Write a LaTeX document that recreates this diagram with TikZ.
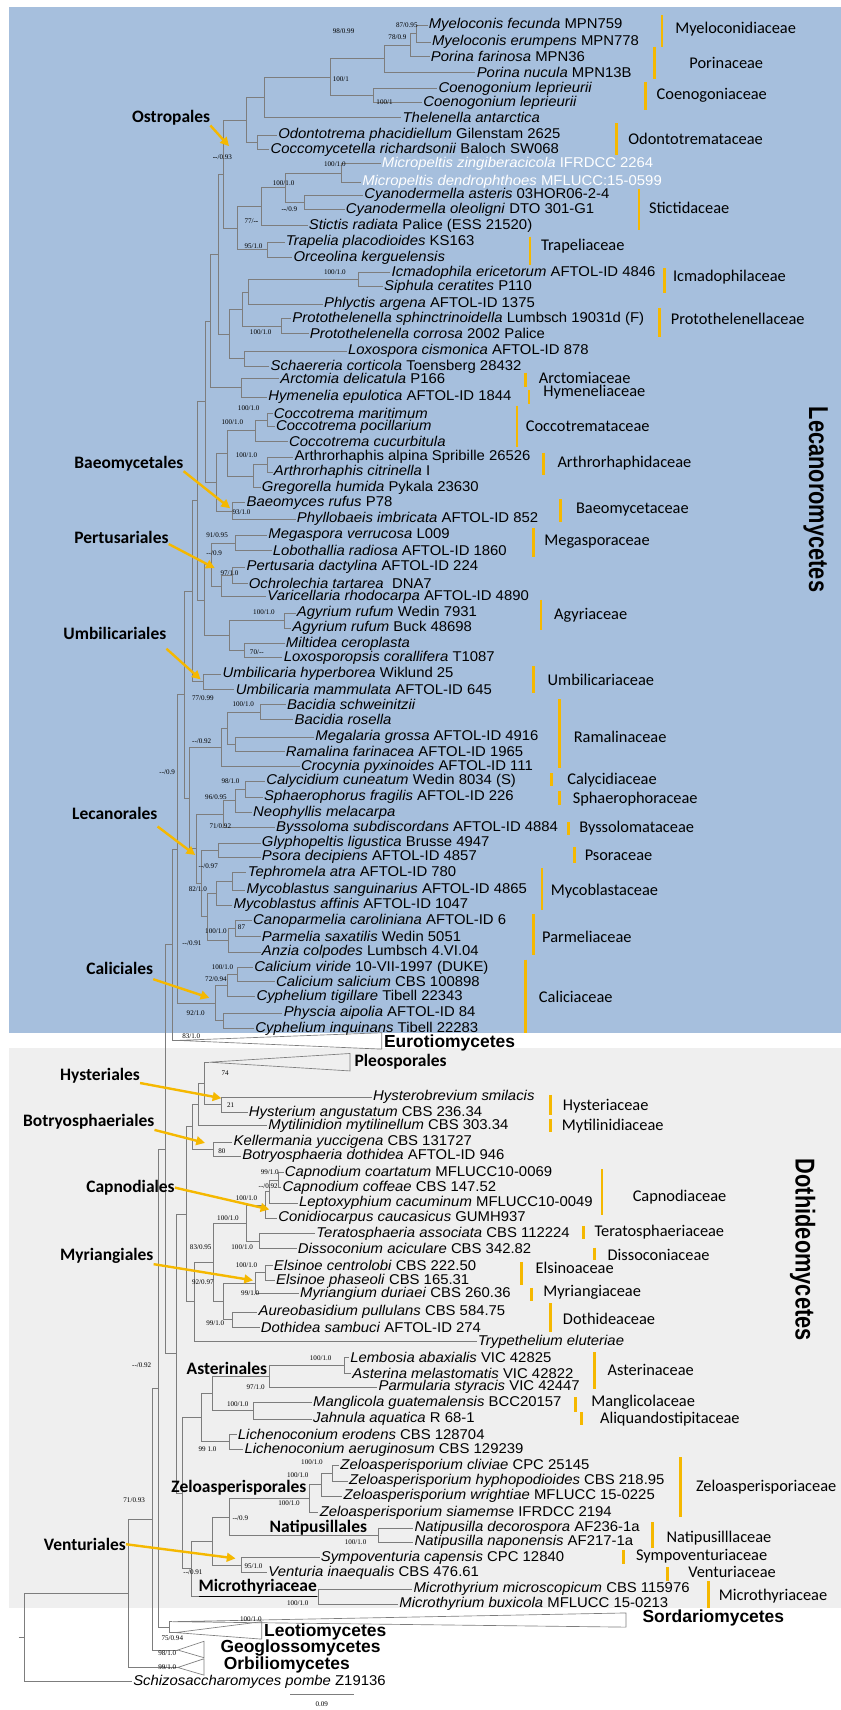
\documentclass[tikz,border=0pt]{standalone}
\usepackage{fontspec}
\setmainfont{Liberation Sans}
\newfontfamily\taxfont{Liberation Sans}[FakeStretch=1.05]
\newfontfamily\bigfont{Liberation Sans}[FakeStretch=0.8]
\newfontfamily\famfont{Carlito}
\newfontfamily\supfont{Liberation Serif}
\usetikzlibrary{arrows.meta}
\definecolor{lecblue}{RGB}{166,191,221}
\definecolor{dotgray}{RGB}{239,239,239}
\definecolor{famgold}{RGB}{245,184,0}
\definecolor{brgray}{RGB}{125,125,125}

\begin{document}
\begin{tikzpicture}[x=1pt,y=-1pt,
  br/.style={draw=brgray,line width=0.6pt},
  tax/.style={anchor=west,inner sep=1pt,font=\taxfont\fontsize{13}{13}\selectfont},
  fam/.style={anchor=west,inner sep=0pt,font=\famfont\fontsize{15}{15}\selectfont},
  famline/.style={draw=famgold,line width=2.6pt},
  ord/.style={anchor=west,inner sep=0pt,font=\famfont\bfseries\fontsize{16}{16}\selectfont},
  cls/.style={anchor=west,inner sep=0pt,font=\bfseries\fontsize{16}{16}\selectfont},
  big/.style={rotate=-90,inner sep=0pt,font=\bigfont\bfseries\fontsize{25}{25}\selectfont},
  sup/.style={anchor=west,inner sep=0pt,font=\supfont\fontsize{6.5}{6.5}\selectfont},
  oarr/.style={draw=famgold,line width=2.2pt,-{Triangle[length=8pt,width=8pt]}}]

\useasboundingbox (0,0) rectangle (771,1568);
\fill[lecblue] (8,6) rectangle (771,947);
\fill[dotgray] (8,961) rectangle (771,1474);

\node[tax] (t1) at (392,23) {\textit{Myeloconis fecunda} MPN759};
\node[tax] (t2) at (395,38.5) {\textit{Myeloconis erumpens} MPN778};
\node[tax] (t3) at (394,52) {\textit{Porina farinosa} MPN36};
\node[tax] (t4) at (436,66) {\textit{Porina nucula} MPN13B};
\node[tax] (t5) at (401,81) {\textit{Coenogonium leprieurii}};
\node[tax] (t6) at (387,94) {\textit{Coenogonium leprieurii}};
\node[tax] (t7) at (368,108) {\textit{Thelenella antarctica}};
\node[tax] (t8) at (254,124) {\textit{Odontotrema phacidiellum} Gilenstam 2625};
\node[tax] (t9) at (247,137) {\textit{Coccomycetella richardsonii} Baloch SW068};
\node[tax,text=white] (t10) at (349,150) {\textit{Micropeltis zingiberacicola} IFRDCC 2264};
\node[tax,text=white] (t11) at (331,167) {\textit{Micropeltis dendrophthoes} MFLUCC:15-0599};
\node[tax] (t12) at (333,179) {\textit{Cyanodermella asteris} 03HOR06-2-4};
\node[tax] (t13) at (316,192) {\textit{Cyanodermella oleoligni} DTO 301-G1};
\node[tax] (t14) at (282,207) {\textit{Stictis radiata} Palice (ESS 21520)};
\node[tax] (t15) at (261,222) {\textit{Trapelia placodioides} KS163};
\node[tax] (t16) at (268,236) {\textit{Orceolina kerguelensis}};
\node[tax] (t17) at (358,250) {\textit{Icmadophila ericetorum} AFTOL-ID 4846};
\node[tax] (t18) at (351,263) {\textit{Siphula ceratites} P110};
\node[tax] (t19) at (296,279) {\textit{Phlyctis argena} AFTOL-ID 1375};
\node[tax] (t20) at (267,292) {\textit{Protothelenella sphinctrinoidella} Lumbsch 19031d (F)};
\node[tax] (t21) at (283,306) {\textit{Protothelenella corrosa} 2002 Palice};
\node[tax] (t22) at (318,322) {\textit{Loxospora cismonica} AFTOL-ID 878};
\node[tax] (t23) at (247,336) {\textit{Schaereria corticola} Toensberg 28432};
\node[tax] (t24) at (256,347) {\textit{Arctomia delicatula} P166};
\node[tax] (t25) at (245,364) {\textit{Hymenelia epulotica} AFTOL-ID 1844};
\node[tax] (t26) at (250,379) {\textit{Coccotrema maritimum}};
\node[tax] (t27) at (252,391) {\textit{Coccotrema pocillarium}};
\node[tax] (t28) at (264,405) {\textit{Coccotrema cucurbitula}};
\node[tax] (t29) at (269,419) {Arthrorhaphis alpina Spribille 26526};
\node[tax] (t30) at (250,433) {\textit{Arthrorhaphis citrinella} I};
\node[tax] (t31) at (239,447) {\textit{Gregorella humida} Pykala 23630};
\node[tax] (t32) at (225,461) {\textit{Baeomyces rufus} P78};
\node[tax] (t33) at (271,476) {\textit{Phyllobaeis imbricata} AFTOL-ID 852};
\node[tax] (t34) at (245,491) {\textit{Megaspora verrucosa} L009};
\node[tax] (t35) at (249,505) {\textit{Lobothallia radiosa} AFTOL-ID 1860};
\node[tax] (t36) at (225,520) {\textit{Pertusaria dactylina} AFTOL-ID 224};
\node[tax] (t37) at (227,535) {\textit{Ochrolechia tartarea}\ \ DNA7};
\node[tax] (t38) at (244,547) {\textit{Varicellaria rhodocarpa} AFTOL-ID 4890};
\node[tax] (t39) at (271,562) {\textit{Agyrium rufum} Wedin 7931};
\node[tax] (t40) at (267,576) {\textit{Agyrium rufum} Buck 48698};
\node[tax] (t41) at (261,590) {\textit{Miltidea ceroplasta}};
\node[tax] (t42) at (259,603) {\textit{Loxosporopsis corallifera} T1087};
\node[tax] (t43) at (203,618) {\textit{Umbilicaria hyperborea} Wiklund 25};
\node[tax] (t44) at (215,632) {\textit{Umbilicaria mammulata} AFTOL-ID 645};
\node[tax] (t45) at (262,646) {\textit{Bacidia schweinitzii}};
\node[tax] (t46) at (269,660) {\textit{Bacidia rosella}};
\node[tax] (t47) at (288,676) {\textit{Megalaria grossa} AFTOL-ID 4916};
\node[tax] (t48) at (261,689) {\textit{Ramalina farinacea} AFTOL-ID 1965};
\node[tax] (t49) at (275,703) {\textit{Crocynia pyxinoides} AFTOL-ID 111};
\node[tax] (t50) at (243,716) {\textit{Calycidium cuneatum} Wedin 8034 (S)};
\node[tax] (t51) at (241,731) {\textit{Sphaerophorus fragilis} AFTOL-ID 226};
\node[tax] (t52) at (231,745) {\textit{Neophyllis melacarpa}};
\node[tax] (t53) at (252,759) {\textit{Byssoloma subdiscordans} AFTOL-ID 4884};
\node[tax] (t54) at (239,773) {\textit{Glyphopeltis ligustica} Brusse 4947};
\node[tax] (t55) at (239,786) {\textit{Psora decipiens} AFTOL-ID 4857};
\node[tax] (t56) at (226,800) {\textit{Tephromela atra} AFTOL-ID 780};
\node[tax] (t57) at (225,816) {\textit{Mycoblastus sanguinarius} AFTOL-ID 4865};
\node[tax] (t58) at (213,830) {\textit{Mycoblastus affinis} AFTOL-ID 1047};
\node[tax] (t59) at (231,844) {\textit{Canoparmelia caroliniana} AFTOL-ID 6};
\node[tax] (t60) at (239,859) {\textit{Parmelia saxatilis} Wedin 5051};
\node[tax] (t61) at (239,873) {\textit{Anzia colpodes} Lumbsch 4.VI.04};
\node[tax] (t62) at (232,887) {\textit{Calicium viride} 10-VII-1997 (DUKE)};
\node[tax] (t63) at (252,900) {\textit{Calicium salicium} CBS 100898};
\node[tax] (t64) at (234,914) {\textit{Cyphelium tigillare} Tibell 22343};
\node[tax] (t65) at (259,929) {\textit{Physcia aipolia} AFTOL-ID 84};
\node[tax] (t66) at (233,943) {\textit{Cyphelium inquinans} Tibell 22283};
\node[tax] (t69) at (341,1006) {\textit{Hysterobrevium smilacis}};
\node[tax] (t70) at (227,1020) {\textit{Hysterium angustatum} CBS 236.34};
\node[tax] (t71) at (245,1032) {\textit{Mytilinidion mytilinellum} CBS 303.34};
\node[tax] (t72) at (213,1047) {\textit{Kellermania yuccigena} CBS 131727};
\node[tax] (t73) at (221,1060) {\textit{Botryosphaeria dothidea} AFTOL-ID 946};
\node[tax] (t74) at (260,1075) {\textit{Capnodium coartatum} MFLUCC10-0069};
\node[tax] (t75) at (258,1089) {\textit{Capnodium coffeae} CBS 147.52};
\node[tax] (t76) at (273,1103) {\textit{Leptoxyphium cacuminum} MFLUCC10-0049};
\node[tax] (t77) at (254,1117) {\textit{Conidiocarpus caucasicus} GUMH937};
\node[tax] (t78) at (289,1131) {\textit{Teratosphaeria associata} CBS 112224};
\node[tax] (t79) at (272,1145) {\textit{Dissoconium aciculare} CBS 342.82};
\node[tax] (t80) at (250,1160) {\textit{Elsinoe centrolobi} CBS 222.50};
\node[tax] (t81) at (252,1174) {\textit{Elsinoe phaseoli} CBS 165.31};
\node[tax] (t82) at (274,1186) {\textit{Myriangium duriaei} CBS 260.36};
\node[tax] (t83) at (236,1203) {\textit{Aureobasidium pullulans} CBS 584.75};
\node[tax] (t84) at (238,1217) {\textit{Dothidea sambuci} AFTOL-ID 274};
\node[tax] (t85) at (437,1230) {\textit{Trypethelium eluteriae}};
\node[tax] (t86) at (320,1245) {\textit{Lembosia abaxialis} VIC 42825};
\node[tax] (t87) at (322,1259) {\textit{Asterina melastomatis} VIC 42822};
\node[tax] (t88) at (346,1272) {\textit{Parmularia styracis} VIC 42447};
\node[tax] (t89) at (286,1286) {\textit{Manglicola guatemalensis} BCC20157};
\node[tax] (t90) at (286,1301) {\textit{Jahnula aquatica} R 68-1};
\node[tax] (t91) at (217,1315) {\textit{Lichenoconium erodens} CBS 128704};
\node[tax] (t92) at (223,1329) {\textit{Lichenoconium aeruginosum} CBS 129239};
\node[tax] (t93) at (311,1344) {\textit{Zeloasperisporium cliviae} CPC 25145};
\node[tax] (t94) at (319,1358) {\textit{Zeloasperisporium hyphopodioides} CBS 218.95};
\node[tax] (t95) at (314,1372) {\textit{Zeloasperisporium wrightiae} MFLUCC 15-0225};
\node[tax] (t96) at (292,1387) {\textit{Zeloasperisporium siamemse} IFRDCC 2194};
\node[tax] (t97) at (379,1401) {\textit{Natipusilla decorospora} AF236-1a};
\node[tax] (t98) at (379,1414) {\textit{Natipusilla naponensis} AF217-1a};
\node[tax] (t99) at (293,1428) {\textit{Sympoventuria capensis} CPC 12840};
\node[tax] (t100) at (245,1442) {\textit{Venturia inaequalis} CBS 476.61};
\node[tax] (t101) at (378,1457) {\textit{Microthyrium microscopicum} CBS 115976};
\node[tax] (t102) at (365,1471) {\textit{Microthyrium buxicola} MFLUCC 15-0213};
\node[tax] (t107) at (121,1542) {\textit{Schizosaccharomyces pombe} Z19136};

\coordinate (eurA) at (163,954);
\coordinate (pleA) at (192,974);
\coordinate (sorA) at (158,1487);
\coordinate (leoA) at (161,1497);
\coordinate (geoA) at (163,1513);
\coordinate (orbA) at (163,1529);
\draw[br] (eurA) -- (350,947) -- (350,962) -- cycle;
\draw[br] (pleA) -- (321,966) -- (321,982) -- cycle;
\draw[br] (sorA) -- (574,1479) -- (574,1492) -- cycle;
\draw[br] (leoA) -- (240,1487) -- (240,1503) -- cycle;
\draw[br] (geoA) -- (187,1505) -- (187,1520) -- cycle;
\draw[br] (orbA) -- (187,1521) -- (187,1536) -- cycle;
\node[cls] (cEur) at (352,956) {Eurotiomycetes};
\node[ord] (cPle) at (325,974) {Pleosporales};
\node[cls] (cSor) at (589,1484) {Sordariomycetes};
\node[cls] (cLeo) at (242,1496) {Leotiomycetes};
\node[cls] (cGeo) at (202,1511) {Geoglossomycetes};
\node[cls] (cOrb) at (205,1527) {Orbiliomycetes};

\coordinate (mye) at (382,30.75);
\coordinate (myep) at (376,41.4);
\coordinate (por) at (352,53.7);
\coordinate (coe) at (342,87.5);
\coordinate (pc) at (303,70.6);
\coordinate (pct) at (242,89.3);
\coordinate (odo) at (236,130.5);
\coordinate (ostA) at (226,109.9);
\coordinate (mic) at (313,158.5);
\coordinate (cya) at (279,185.5);
\coordinate (mc) at (262,172);
\coordinate (mcs) at (240,189.5);
\coordinate (tra) at (245,229);
\coordinate (mst) at (218,209.3);
\coordinate (ost) at (205,159.6);
\coordinate (icm) at (329,256.5);
\coordinate (icmp) at (228,267.8);
\coordinate (pro) at (258,299);
\coordinate (ipp) at (222,283.4);
\coordinate (lox) at (224,329);
\coordinate (ippl) at (210,306.2);
\coordinate (ost2) at (200,232.9);
\coordinate (arc) at (221,355.5);
\coordinate (A1) at (193,294.2);
\coordinate (coc1) at (245,385);
\coordinate (coc) at (234,395);
\coordinate (art) at (245,426);
\coordinate (artg) at (232,436.5);
\coordinate (cag) at (208,415.8);
\coordinate (bae) at (213,468.5);
\coordinate (cagb) at (198,442.1);
\coordinate (A2) at (188,368.2);
\coordinate (meg) at (216,498);
\coordinate (per) at (213,527.5);
\coordinate (perv) at (203,537.3);
\coordinate (megpv) at (194,517.6);
\coordinate (agy) at (261,569);
\coordinate (mil) at (224,596.5);
\coordinate (am) at (210,582.8);
\coordinate (pert) at (187,550.2);
\coordinate (A3) at (181,459.2);
\coordinate (umb) at (186,625);
\coordinate (A4) at (176,542.1);
\coordinate (bac) at (239,653);
\coordinate (mr) at (216,682.5);
\coordinate (bmr) at (208,667.8);
\coordinate (ram) at (203,685.4);
\coordinate (cal) at (225,723.5);
\coordinate (caln) at (216,734.3);
\coordinate (calnb) at (205,746.6);
\coordinate (pso) at (200,779.5);
\coordinate (myc1) at (213,808);
\coordinate (myc) at (198,819);
\coordinate (par1) at (216,851.5);
\coordinate (par) at (209,862.3);
\coordinate (mp) at (190,840.6);
\coordinate (psmp) at (185,810);
\coordinate (L1) at (180,778.3);
\coordinate (lec) at (174,731.9);
\coordinate (A5) at (169,637);
\coordinate (calc) at (218,893.5);
\coordinate (calc2) at (208,903.8);
\coordinate (phy) at (205,936);
\coordinate (cali) at (197,919.9);
\coordinate (lecc) at (163,778.5);
\coordinate (LE) at (158,866.3);
\coordinate (hys) at (203,1013);
\coordinate (ph) at (187,993.5);
\coordinate (phm) at (182,1012.8);
\coordinate (bot) at (196,1053.5);
\coordinate (D1) at (176,1033.1);
\coordinate (cap1) at (255,1082);
\coordinate (cap2) at (247,1092.5);
\coordinate (cap) at (243,1104.8);
\coordinate (ter) at (238,1138);
\coordinate (ct) at (226,1121.4);
\coordinate (els) at (243,1167);
\coordinate (myr) at (234,1176.5);
\coordinate (dot) at (213,1210);
\coordinate (md) at (205,1193.3);
\coordinate (ctmd) at (196,1157.3);
\coordinate (ctmdt) at (178,1193.7);
\coordinate (dA) at (171,1113.4);
\coordinate (ast1) at (316,1252);
\coordinate (ast) at (247,1262);
\coordinate (mang) at (232,1293.5);
\coordinate (asm) at (195,1277.8);
\coordinate (lic) at (210,1322);
\coordinate (asml) at (185,1299.9);
\coordinate (zel1) at (305,1351);
\coordinate (zel2) at (295,1361.5);
\coordinate (zel) at (284,1374.3);
\coordinate (nat) at (347,1407.5);
\coordinate (zn) at (210,1390.9);
\coordinate (ven) at (221,1435);
\coordinate (znv) at (195,1413);
\coordinate (mic2) at (292,1464);
\coordinate (znvm) at (175,1438.5);
\coordinate (dB) at (167,1369.2);
\coordinate (doth) at (162,1241.3);
\coordinate (LD) at (152,1053.8);
\coordinate (sl) at (155,1492);
\coordinate (Ycl) at (145,1272.9);
\coordinate (Xcl) at (140,1393);
\coordinate (n71) at (118,1461);
\coordinate (root) at (22,1501.5);
\coordinate (rootS) at (17,1501.5);

\draw[br] (mye) |- (t1.west) (mye) |- (t2.west);
\draw[br] (myep) |- (mye) (myep) |- (t3.west);
\draw[br] (por) |- (myep) (por) |- (t4.west);
\draw[br] (coe) |- (t5.west) (coe) |- (t6.west);
\draw[br] (pc) |- (por) (pc) |- (coe);
\draw[br] (pct) |- (pc) (pct) |- (t7.west);
\draw[br] (odo) |- (t8.west) (odo) |- (t9.west);
\draw[br] (ostA) |- (pct) (ostA) |- (odo);
\draw[br] (mic) |- (t10.west) (mic) |- (t11.west);
\draw[br] (cya) |- (t12.west) (cya) |- (t13.west);
\draw[br] (mc) |- (mic) (mc) |- (cya);
\draw[br] (mcs) |- (mc) (mcs) |- (t14.west);
\draw[br] (tra) |- (t15.west) (tra) |- (t16.west);
\draw[br] (mst) |- (mcs) (mst) |- (tra);
\draw[br] (ost) |- (ostA) (ost) |- (mst);
\draw[br] (icm) |- (t17.west) (icm) |- (t18.west);
\draw[br] (icmp) |- (icm) (icmp) |- (t19.west);
\draw[br] (pro) |- (t20.west) (pro) |- (t21.west);
\draw[br] (ipp) |- (icmp) (ipp) |- (pro);
\draw[br] (lox) |- (t22.west) (lox) |- (t23.west);
\draw[br] (ippl) |- (ipp) (ippl) |- (lox);
\draw[br] (ost2) |- (ost) (ost2) |- (ippl);
\draw[br] (arc) |- (t24.west) (arc) |- (t25.west);
\draw[br] (A1) |- (ost2) (A1) |- (arc);
\draw[br] (coc1) |- (t26.west) (coc1) |- (t27.west);
\draw[br] (coc) |- (coc1) (coc) |- (t28.west);
\draw[br] (art) |- (t29.west) (art) |- (t30.west);
\draw[br] (artg) |- (art) (artg) |- (t31.west);
\draw[br] (cag) |- (coc) (cag) |- (artg);
\draw[br] (bae) |- (t32.west) (bae) |- (t33.west);
\draw[br] (cagb) |- (cag) (cagb) |- (bae);
\draw[br] (A2) |- (A1) (A2) |- (cagb);
\draw[br] (meg) |- (t34.west) (meg) |- (t35.west);
\draw[br] (per) |- (t36.west) (per) |- (t37.west);
\draw[br] (perv) |- (per) (perv) |- (t38.west);
\draw[br] (megpv) |- (meg) (megpv) |- (perv);
\draw[br] (agy) |- (t39.west) (agy) |- (t40.west);
\draw[br] (mil) |- (t41.west) (mil) |- (t42.west);
\draw[br] (am) |- (agy) (am) |- (mil);
\draw[br] (pert) |- (megpv) (pert) |- (am);
\draw[br] (A3) |- (A2) (A3) |- (pert);
\draw[br] (umb) |- (t43.west) (umb) |- (t44.west);
\draw[br] (A4) |- (A3) (A4) |- (umb);
\draw[br] (bac) |- (t45.west) (bac) |- (t46.west);
\draw[br] (mr) |- (t47.west) (mr) |- (t48.west);
\draw[br] (bmr) |- (bac) (bmr) |- (mr);
\draw[br] (ram) |- (bmr) (ram) |- (t49.west);
\draw[br] (cal) |- (t50.west) (cal) |- (t51.west);
\draw[br] (caln) |- (cal) (caln) |- (t52.west);
\draw[br] (calnb) |- (caln) (calnb) |- (t53.west);
\draw[br] (pso) |- (t54.west) (pso) |- (t55.west);
\draw[br] (myc1) |- (t56.west) (myc1) |- (t57.west);
\draw[br] (myc) |- (myc1) (myc) |- (t58.west);
\draw[br] (par1) |- (t59.west) (par1) |- (t60.west);
\draw[br] (par) |- (par1) (par) |- (t61.west);
\draw[br] (mp) |- (myc) (mp) |- (par);
\draw[br] (psmp) |- (pso) (psmp) |- (mp);
\draw[br] (L1) |- (calnb) (L1) |- (psmp);
\draw[br] (lec) |- (ram) (lec) |- (L1);
\draw[br] (A5) |- (A4) (A5) |- (lec);
\draw[br] (calc) |- (t62.west) (calc) |- (t63.west);
\draw[br] (calc2) |- (calc) (calc2) |- (t64.west);
\draw[br] (phy) |- (t65.west) (phy) |- (t66.west);
\draw[br] (cali) |- (calc2) (cali) |- (phy);
\draw[br] (lecc) |- (A5) (lecc) |- (cali);
\draw[br] (LE) |- (lecc) (LE) |- (eurA);
\draw[br] (hys) |- (t69.west) (hys) |- (t70.west);
\draw[br] (ph) |- (pleA) (ph) |- (hys);
\draw[br] (phm) |- (ph) (phm) |- (t71.west);
\draw[br] (bot) |- (t72.west) (bot) |- (t73.west);
\draw[br] (D1) |- (phm) (D1) |- (bot);
\draw[br] (cap1) |- (t74.west) (cap1) |- (t75.west);
\draw[br] (cap2) |- (cap1) (cap2) |- (t76.west);
\draw[br] (cap) |- (cap2) (cap) |- (t77.west);
\draw[br] (ter) |- (t78.west) (ter) |- (t79.west);
\draw[br] (ct) |- (cap) (ct) |- (ter);
\draw[br] (els) |- (t80.west) (els) |- (t81.west);
\draw[br] (myr) |- (els) (myr) |- (t82.west);
\draw[br] (dot) |- (t83.west) (dot) |- (t84.west);
\draw[br] (md) |- (myr) (md) |- (dot);
\draw[br] (ctmd) |- (ct) (ctmd) |- (md);
\draw[br] (ctmdt) |- (ctmd) (ctmdt) |- (t85.west);
\draw[br] (dA) |- (D1) (dA) |- (ctmdt);
\draw[br] (ast1) |- (t86.west) (ast1) |- (t87.west);
\draw[br] (ast) |- (ast1) (ast) |- (t88.west);
\draw[br] (mang) |- (t89.west) (mang) |- (t90.west);
\draw[br] (asm) |- (ast) (asm) |- (mang);
\draw[br] (lic) |- (t91.west) (lic) |- (t92.west);
\draw[br] (asml) |- (asm) (asml) |- (lic);
\draw[br] (zel1) |- (t93.west) (zel1) |- (t94.west);
\draw[br] (zel2) |- (zel1) (zel2) |- (t95.west);
\draw[br] (zel) |- (zel2) (zel) |- (t96.west);
\draw[br] (nat) |- (t97.west) (nat) |- (t98.west);
\draw[br] (zn) |- (zel) (zn) |- (nat);
\draw[br] (ven) |- (t99.west) (ven) |- (t100.west);
\draw[br] (znv) |- (zn) (znv) |- (ven);
\draw[br] (mic2) |- (t101.west) (mic2) |- (t102.west);
\draw[br] (znvm) |- (znv) (znvm) |- (mic2);
\draw[br] (dB) |- (asml) (dB) |- (znvm);
\draw[br] (doth) |- (dA) (doth) |- (dB);
\draw[br] (LD) |- (LE) (LD) |- (doth);
\draw[br] (sl) |- (sorA) (sl) |- (leoA);
\draw[br] (Ycl) |- (LD) (Ycl) |- (sl);
\draw[br] (Xcl) |- (Ycl) (Xcl) |- (geoA);
\draw[br] (n71) |- (Xcl) (n71) |- (orbA);
\draw[br] (root) |- (n71) (root) |- (t107.west);
\draw[br] (rootS) -- (root);

\node[sup] (s1) at (363,23) {87/0.95};
\node[sup] (s2) at (356,34) {78/0.9};
\node[sup] (s3) at (305,29) {98/0.99};
\node[sup] (s4) at (305,73) {100/1};
\node[sup] (s5) at (345,94) {100/1};
\node[sup] (s6) at (195,144) {\textbf{-{}-}/0.93};
\node[sup] (s7) at (297,151) {100/1.0};
\node[sup] (s8) at (250,168) {100/1.0};
\node[sup] (s9) at (258,192) {\textbf{-{}-}/0.9};
\node[sup] (s10) at (224,203) {77/\textbf{-{}-}};
\node[sup] (s11) at (224,226) {95/1.0};
\node[sup] (s12) at (297,250) {100/1.0};
\node[sup] (s13) at (229,305) {100/1.0};
\node[sup] (s14) at (218,374) {100/1.0};
\node[sup] (s15) at (203,387) {100/1.0};
\node[sup] (s16) at (216,417) {100/1.0};
\node[sup] (s17) at (213,470) {93/1.0};
\node[sup] (s18) at (189,491) {91/0.95};
\node[sup] (s19) at (189,507) {-{}-/0.9};
\node[sup] (s20) at (202,526) {97/1.0};
\node[sup] (s21) at (232,561) {100/1.0};
\node[sup] (s22) at (229,598) {70/-{}-};
\node[sup] (s23) at (176,640) {77/0.99};
\node[sup] (s24) at (213,646) {100/1.0};
\node[sup] (s25) at (176,680) {-{}-/0.92};
\node[sup] (s26) at (146,708) {-{}-/0.9};
\node[sup] (s27) at (203,716) {98/1.0};
\node[sup] (s28) at (188,731) {96/0.95};
\node[sup] (s29) at (192,758) {71/0.92};
\node[sup] (s30) at (182,794) {-{}-/0.97};
\node[sup] (s31) at (173,815) {82/1.0};
\node[sup] (s32) at (188,854) {100/1.0};
\node[sup] (s33) at (218,850) {87};
\node[sup] (s34) at (167,865) {-{}-/0.91};
\node[sup] (s35) at (194,887) {100/1.0};
\node[sup] (s36) at (188,898) {72/0.94};
\node[sup] (s37) at (171,929) {92/1.0};
\node[sup] (s38) at (167,950) {83/1.0};
\node[sup] (s39) at (203,984) {74};
\node[sup] (s40) at (208,1013) {21};
\node[sup] (s41) at (200,1056) {80};
\node[sup] (s42) at (239,1075) {99/1.0};
\node[sup] (s43) at (237,1088) {-{}-/0.92};
\node[sup] (s44) at (216,1099) {100/1.0};
\node[sup] (s45) at (199,1117) {100/1.0};
\node[sup] (s46) at (174,1144) {83/0.95};
\node[sup] (s47) at (212,1144) {100/1.0};
\node[sup] (s48) at (216,1160) {100/1.0};
\node[sup] (s49) at (176,1176) {92/0.97};
\node[sup] (s50) at (221,1186) {99/1.0};
\node[sup] (s51) at (189,1213) {99/1.0};
\node[sup] (s52) at (121,1252) {-{}-/0.92};
\node[sup] (s53) at (284,1245) {100/1.0};
\node[sup] (s54) at (226,1272) {97/1.0};
\node[sup] (s55) at (208,1288) {100/1.0};
\node[sup] (s56) at (182,1329) {99 1.0};
\node[sup] (s57) at (276,1341) {100/1.0};
\node[sup] (s58) at (263,1353) {100/1.0};
\node[sup] (s59) at (255,1378) {100/1.0};
\node[sup] (s60) at (113,1376) {71/0.93};
\node[sup] (s61) at (213,1392) {-{}-/0.9};
\node[sup] (s62) at (316,1414) {100/1.0};
\node[sup] (s63) at (224,1436) {95/1.0};
\node[sup] (s64) at (168,1442) {-{}-/0.91};
\node[sup] (s65) at (263,1470) {100/1.0};
\node[sup] (s66) at (220,1485) {100/1.0};
\node[sup] (s67) at (148,1502) {75/0.94};
\node[sup] (s68) at (145,1516) {98/1.0};
\node[sup] (s69) at (145,1529) {99/1.0};

\draw[famline] (607,14) -- (607,43);
\node[fam] (fMye) at (619,27) {Myeloconidiaceae};
\draw[famline] (600,43) -- (600,72);
\node[fam] (fPor) at (632,58) {Porinaceae};
\draw[famline] (592,75) -- (592,101);
\node[fam] (fCoe) at (602,87) {Coenogoniaceae};
\draw[famline] (565,113) -- (565,142);
\node[fam] (fOdo) at (576,127) {Odontotremataceae};
\draw[famline] (586,173) -- (586,211);
\node[fam] (fSti) at (595,191) {Stictidaceae};
\draw[famline] (486,217) -- (486,243);
\node[fam] (fTra) at (496,226) {Trapeliaceae};
\draw[famline] (609,246) -- (609,269);
\node[fam] (fIcm) at (617,254) {Icmadophilaceae};
\draw[famline] (605,282) -- (605,309);
\node[fam] (fPro) at (615,292) {Protothelenellaceae};
\draw[famline] (482,342) -- (482,355);
\node[fam] (fArc) at (494,347) {Arctomiaceae};
\draw[famline] (485,358) -- (485,370);
\node[fam] (fHym) at (498,360) {Hymeneliaceae};
\draw[famline] (474,372) -- (474,410);
\node[fam] (fCoc) at (482,391) {Coccotremataceae};
\draw[famline] (498,415) -- (498,436);
\node[fam] (fArt) at (511,425) {Arthrorhaphidaceae};
\draw[famline] (514,458) -- (514,479);
\node[fam] (fBae) at (528,467) {Baeomycetaceae};
\draw[famline] (489,484) -- (489,511);
\node[fam] (fMeg) at (499,497) {Megasporaceae};
\draw[famline] (496,550) -- (496,578);
\node[fam] (fAgy) at (508,564) {Agyriaceae};
\draw[famline] (489,611) -- (489,635);
\node[fam] (fUmb) at (502,623) {Umbilicariaceae};
\draw[famline] (513,641) -- (513,704);
\node[fam] (fRam) at (526,676) {Ramalinaceae};
\draw[famline] (506,709) -- (506,721);
\node[fam] (fCal) at (520,715) {Calycidiaceae};
\draw[famline] (513,725) -- (513,738);
\node[fam] (fSph) at (525,733) {Sphaerophoraceae};
\draw[famline] (521,754) -- (521,766);
\node[fam] (fBys) at (531,759) {Byssolomataceae};
\draw[famline] (527,777) -- (527,791);
\node[fam] (fPso) at (536,784) {Psoraceae};
\draw[famline] (497,796) -- (497,834);
\node[fam] (fMyc) at (505,817) {Mycoblastaceae};
\draw[famline] (489,838) -- (489,876);
\node[fam] (fPar) at (497,859) {Parmeliaceae};
\draw[famline] (482,880) -- (482,947);
\node[fam] (fCali) at (494,914) {Caliciaceae};
\draw[famline] (505,1004) -- (505,1022);
\node[fam] (fHys) at (516,1014) {Hysteriaceae};
\draw[famline] (505,1026) -- (505,1038);
\node[fam] (fMyt) at (515,1033) {Mytilinidiaceae};
\draw[famline] (552,1072) -- (552,1114);
\node[fam] (fCap) at (580,1098) {Capnodiaceae};
\draw[famline] (535,1124) -- (535,1136);
\node[fam] (fTer) at (545,1130) {Teratosphaeriaceae};
\draw[famline] (545,1144) -- (545,1155);
\node[fam] (fDis) at (557,1151) {Dissoconiaceae};
\draw[famline] (478,1157) -- (478,1178);
\node[fam] (fEls) at (491,1163) {Elsinoaceae};
\draw[famline] (487,1181) -- (487,1193);
\node[fam] (fMyr) at (498,1185) {Myriangiaceae};
\draw[famline] (505,1195) -- (505,1221);
\node[fam] (fDot) at (516,1209) {Dothideaceae};
\draw[famline] (545,1240) -- (545,1274);
\node[fam] (fAst) at (557,1256) {Asterinaceae};
\draw[famline] (528,1281) -- (528,1295);
\node[fam] (fMan) at (542,1286) {Manglicolaceae};
\draw[famline] (533,1295) -- (533,1307);
\node[fam] (fAli) at (550,1301) {Aliquandostipitaceae};
\draw[famline] (624,1336) -- (624,1391);
\node[fam] (fZel) at (638,1364) {Zeloasperisporiaceae};
\draw[famline] (598,1396) -- (598,1419);
\node[fam] (fNat) at (611,1410) {Natipusilllaceae};
\draw[famline] (572,1421) -- (572,1434);
\node[fam] (fSym) at (583,1427) {Sympoventuriaceae};
\draw[famline] (612,1437) -- (612,1450);
\node[fam] (fVen) at (631,1441) {Venturiaceae};
\draw[famline] (650,1450) -- (650,1474);
\node[fam] (fMic) at (659,1464) {Microthyriaceae};

\node[big] (cLec) at (748,458) {Lecanoromycetes};
\node[big] (cDot) at (736,1146) {Dothideomycetes};

\node[ord] (lOst) at (121,108) {Ostropales};
\node[ord] (lBae) at (68,425) {Baeomycetales};
\node[ord] (lPer) at (68,493) {Pertusariales};
\node[ord] (lUmb) at (58,581) {Umbilicariales};
\node[ord] (lLec) at (66,746) {Lecanorales};
\node[ord] (lCal) at (79,888) {Caliciales};
\node[ord] (lHys) at (55,986) {Hysteriales};
\node[ord] (lBot) at (21,1029) {Botryosphaeriales};
\node[ord] (lCap) at (79,1089) {Capnodiales};
\node[ord] (lMyr) at (55,1152) {Myriangiales};
\node[ord] (lAst) at (171,1255) {Asterinales};
\node[ord] (lZel) at (157,1364) {Zeloasperisporales};
\node[ord] (lNat) at (247,1401) {Natipusillales};
\node[ord] (lVen) at (40,1416) {Venturiales};
\node[ord] (lMic) at (182,1456) {\underline{Microthyriaceae}};

\coordinate (aOst) at (210,134);
\coordinate (aBae) at (211,466);
\coordinate (aPer) at (197,521);
\coordinate (aUmb) at (184,623);
\coordinate (aLec) at (179,784);
\coordinate (aCal) at (192,915);
\coordinate (aHys) at (203,1007);
\coordinate (aBot) at (188,1048);
\coordinate (aCap) at (247,1109);
\coordinate (aMyr) at (232,1174);
\coordinate (aVen) at (216,1429);
\draw[oarr] (lOst.south east) -- (aOst);
\draw[oarr] (lBae.south east) -- (aBae);
\draw[oarr] (lPer.south east) -- (aPer);
\draw[oarr] ([yshift=-8pt]lUmb.south east) -- (aUmb);
\draw[oarr] ([yshift=-6pt]lLec.south east) -- (aLec);
\draw[oarr] ([yshift=-4pt]lCal.south east) -- (aCal);
\draw[oarr] (lHys.south east) -- (aHys);
\draw[oarr] (lBot.south east) -- (aBot);
\draw[oarr] (lCap.east) -- (aCap);
\draw[oarr] (lMyr.south east) -- (aMyr);
\draw[oarr] (lVen.east) -- (aVen);

\coordinate (sbL) at (266,1554);
\coordinate (sbR) at (325,1554);
\draw[br] (sbL) -- (sbR);
\node[sup,anchor=center] (sbT) at (295,1563) {0.09};
\end{tikzpicture}
\end{document}
